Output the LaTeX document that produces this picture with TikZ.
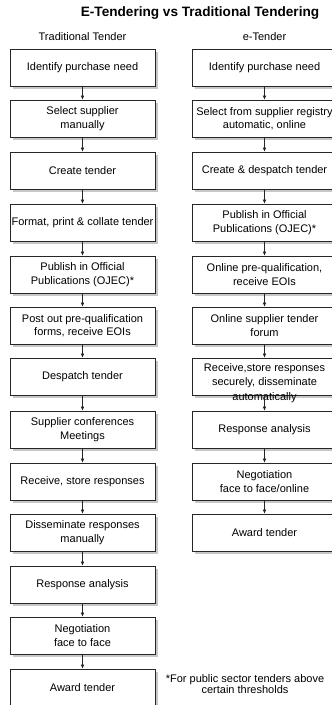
\documentclass[tikz,border=0pt]{standalone}
\usepackage{fontspec}
\setmainfont{Liberation Sans}
\usetikzlibrary{arrows.meta,shadows}

\begin{document}
\begin{tikzpicture}[x=1pt,y=-1pt,
  box/.style={draw=black!85, line width=0.7pt, fill=white,
    minimum width=145pt, minimum height=37pt, inner sep=1pt,
    align=center, font=\fontsize{11}{13.5}\selectfont,
    drop shadow={shadow xshift=3pt, shadow yshift=-3pt, fill=black!22, opacity=1}},
  label text/.style={align=center, inner sep=0pt, font=\fontsize{11}{14.5}\selectfont},
  heading/.style={font=\fontsize{11}{13}\selectfont, inner sep=0pt},
  flow/.style={-{Latex[length=4pt,width=3.6pt]}, line width=0.6pt, draw=black!85}]

\useasboundingbox (0,0) rectangle (332,705);
\clip (0,0) rectangle (332,705);

% title and column headings
\node[font=\bfseries\fontsize{13.6}{16}\selectfont, inner sep=0pt] (title) at (200,13) {E-Tendering vs Traditional Tendering};
\node[heading] (hl) at (82.5,37) {Traditional Tender};
\node[heading] (hr) at (264.5,37) {e-Tender};

% traditional process
\node[box] (l1)  at (82.5,67.5)  {Identify purchase need};
\node[box] (l2)  at (82.5,118.5) {Select supplier\\manually};
\node[box] (l3)  at (82.5,170.5) {Create tender};
\node[box] (l4)  at (82.5,222.5) {Format, print \& collate tender};
\node[box] (l5)  at (82.5,274.5) {Publish in Official\\Publications (OJEC)*};
\node[box] (l6)  at (82.5,325.5) {Post out pre-qualification\\forms, receive EOIs};
\node[box] (l7)  at (82.5,376.5) {Despatch tender};
\node[box] (l8)  at (82.5,429.5) {Supplier conferences\\Meetings};
\node[box] (l9)  at (82.5,481.5) {Receive, store responses};
\node[box] (l10) at (82.5,532.5) {Disseminate responses\\manually};
\node[box] (l11) at (82.5,584.5) {Response analysis};
\node[box] (l12) at (82.5,635.5) {Negotiation\\face to face};
\node[box] (l13) at (82.5,687.5) {Award tender};

% electronic process
\node[box] (r1)  at (264.5,67.5)  {Identify purchase need};
\node[box] (r2)  at (264.5,118.5) {Select from supplier registry\\automatic, online};
\node[box] (r3)  at (264.5,170.5) {Create \& despatch tender};
\node[box] (r4)  at (264.5,222.5) {Publish in Official\\Publications (OJEC)*};
\node[box] (r5)  at (264.5,274.5) {Online pre-qualification,\\receive EOIs};
\node[box] (r6)  at (264.5,325.5) {Online supplier tender\\forum};
\node[box] (r7)  at (264.5,376.5) {};
\node[label text] (r7t) at (264.5,383) {Receive,store responses\\securely, disseminate\\automatically};
\node[box] (r8)  at (264.5,429.5) {Response analysis};
\node[box] (r9)  at (264.5,481.5) {Negotiation\\face to face/online};
\node[box] (r10) at (264.5,532.5) {Award tender};

% footnote
\node[align=center, inner sep=0pt, font=\fontsize{11}{11.8}\selectfont] (note) at (245,684)
  {*For public sector tenders above\\certain thresholds};

% connectors
\foreach \a/\b in {l1/l2,l2/l3,l3/l4,l4/l5,l5/l6,l6/l7,l7/l8,l8/l9,l9/l10,l10/l11,l11/l12,l12/l13,
                   r1/r2,r2/r3,r3/r4,r4/r5,r5/r6,r6/r7,r7/r8,r8/r9,r9/r10}
  \draw[flow] (\a.south) -- (\b.north);
\end{tikzpicture}
\end{document}
